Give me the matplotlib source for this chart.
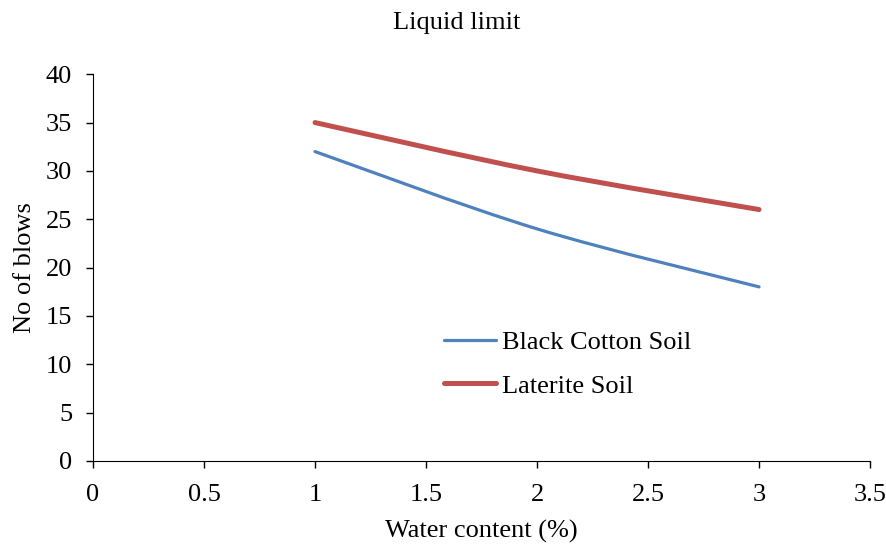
import matplotlib
matplotlib.use("Agg")
import matplotlib.pyplot as plt
from matplotlib.path import Path
from matplotlib.patches import PathPatch
from matplotlib.lines import Line2D

plt.rcParams["font.family"] = ["Liberation Serif", "DejaVu Serif"]

# data
water_content = [1, 2, 3]
black_cotton = [32, 24, 18]
laterite = [35, 30, 26]
series_names = ["Black Cotton Soil", "Laterite Soil"]
colors = ["#4f81bd", "#c0504d"]
widths = [2.3, 3.6]


def smooth_path(xs, ys):
    # Bezier segments through the points (like Excel's smoothed line)
    pts = list(zip(xs, ys))
    verts = [pts[0]]
    codes = [Path.MOVETO]
    n = len(pts)
    for i in range(n - 1):
        p0 = pts[i - 1] if i > 0 else pts[i]
        p1 = pts[i]
        p2 = pts[i + 1]
        p3 = pts[i + 2] if i + 2 < n else pts[i + 1]
        c1 = (p1[0] + (p2[0] - p0[0]) / 6, p1[1] + (p2[1] - p0[1]) / 6)
        c2 = (p2[0] - (p3[0] - p1[0]) / 6, p2[1] - (p3[1] - p1[1]) / 6)
        verts += [c1, c2, p2]
        codes += [Path.CURVE4] * 3
    return Path(verts, codes)


fig = plt.figure(figsize=(8.86, 5.46), dpi=100)
ax = fig.add_axes([0.105, 0.156, 0.877, 0.708])

handles = []
for ys, name, c, lw in zip([black_cotton, laterite], series_names, colors, widths):
    patch = PathPatch(smooth_path(water_content, ys), facecolor="none", edgecolor=c,
                      linewidth=lw, capstyle="round", joinstyle="round")
    ax.add_patch(patch)
    handles.append(Line2D([], [], color=c, linewidth=lw, solid_capstyle="round"))

ax.set_xlim(0, 3.5)
ax.set_ylim(0, 40)
ax.set_xticks([0, 0.5, 1, 1.5, 2, 2.5, 3, 3.5])
ax.set_xticklabels(["0", "0.5", "1", "1.5", "2", "2.5", "3", "3.5"])
ax.set_yticks(range(0, 41, 5))
ax.tick_params(labelsize=19, direction="out", length=5, width=1)
ax.tick_params(axis="y", pad=10)
ax.tick_params(axis="x", pad=11.5)
ax.spines["top"].set_visible(False)
ax.spines["right"].set_visible(False)

ax.set_xlabel("Water content (%)", fontsize=19, labelpad=10)
ax.set_ylabel("No of blows", fontsize=19, labelpad=7)
fig.text(0.516, 0.958, "Liquid limit", ha="center", va="center", fontsize=19)

ax.legend(handles, series_names, loc="center left", bbox_to_anchor=(0.452, 0.25),
          frameon=False, fontsize=19, handlelength=1.95, handletextpad=0.25,
          labelspacing=0.75, borderpad=0, borderaxespad=0)

fig.savefig("out.png", dpi=100)
